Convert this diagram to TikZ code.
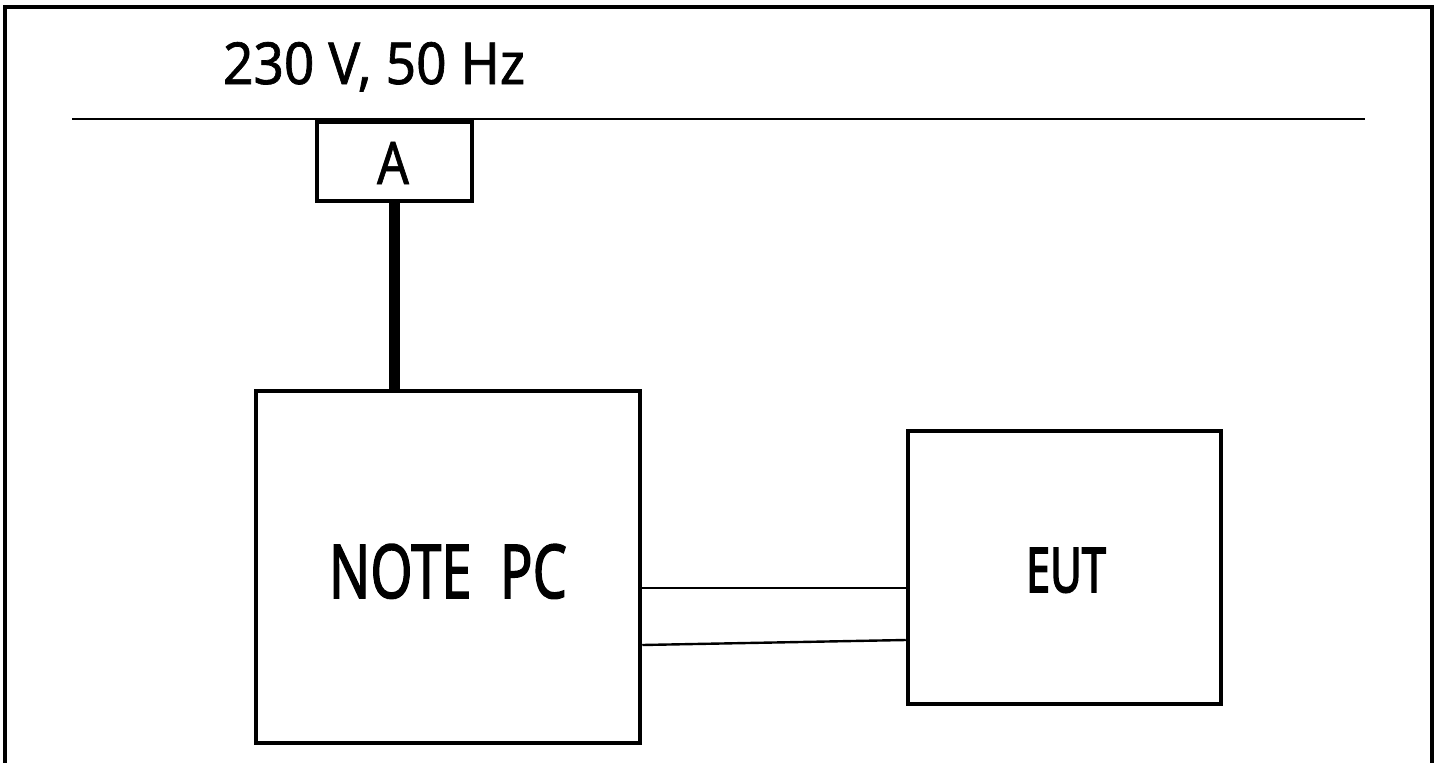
\documentclass[tikz,border=0pt]{standalone}
\usepackage{fontspec}
\usepackage{graphicx}
\setmainfont{Noto Sans}
\newfontfamily\medfont[FakeBold=1.2]{Noto Sans}
\newfontfamily\heavyfont[FakeBold=2]{Noto Sans}
\newfontfamily\boldestfont[FakeBold=3]{Noto Sans}
\begin{document}
\begin{tikzpicture}[x=1pt,y=-1pt,
  frameline/.style={line width=4.5pt},
  boxstyle/.style={draw,line width=4.5pt,inner sep=0pt},
  wire/.style={line width=2.4pt},
  powerwire/.style={line width=11pt}]
\useasboundingbox (0,0) rectangle (1436,763);
% outer frame (no bottom edge)
\draw[frameline] (5,763) -- (5,7) -- (1432,7) -- (1432,763);
% mains line
\coordinate (mainsL) at (72,119);
\coordinate (mainsR) at (1365,119);
\draw[wire] (mainsL) -- (mainsR);
\node[anchor=base] (mainslabel) at (374,84) {\resizebox{302pt}{42pt}{\medfont 230 V, 50 Hz}};
% boxes
\node[boxstyle,minimum width=155pt,minimum height=79pt] (A) at (394.5,161.5) {};
\node[anchor=base] (Atext) at (393,184) {\resizebox{32pt}{42pt}{\medfont A}};
\node[boxstyle,minimum width=384pt,minimum height=352pt] (pc) at (448,567) {};
\node[anchor=base] (pctext) at (448,598) {\resizebox{238pt}{54pt}{\heavyfont NOTE\ \ PC}};
\node[boxstyle,minimum width=313pt,minimum height=273pt] (eut) at (1064.5,567.5) {};
\node[anchor=base] (euttext) at (1066,592) {\resizebox{80pt}{44pt}{\boldestfont EUT}};
% connectors
\draw[powerwire] (A.south -| 394,0) -- (pc.north -| 394,0);
\draw[wire] (pc.east |- 0,588) -- (eut.west |- 0,588);
\draw[wire] (pc.east |- 0,645) -- (eut.west |- 0,640);
\end{tikzpicture}
\end{document}
